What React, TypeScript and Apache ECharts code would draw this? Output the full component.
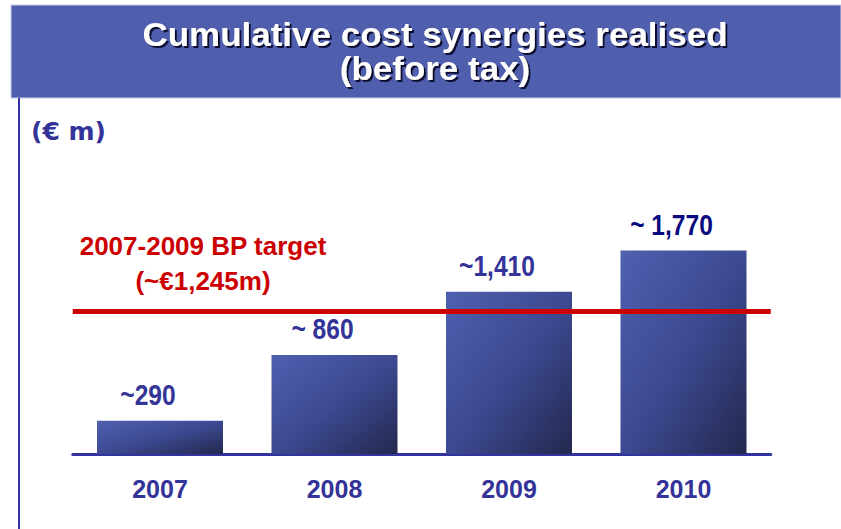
import React, { useEffect, useRef } from "react";
import * as echarts from "echarts";

const categories = ["2007", "2008", "2009", "2010"];
const values = [290, 860, 1410, 1770];
const valueLabels = ["~290", "~ 860", "~1,410", "~ 1,770"];
const labelColors = ["#343597", "#333399", "#333399", "#0a0a80"];
const targetValue = 1245;
const titleLines = ["Cumulative cost synergies realised", "(before tax)"];
const unitLabel = "(€ m)";
const targetLines = ["2007-2009 BP target", "(~€1,245m)"];

const SANS = "'Liberation Sans', Arial, sans-serif";
const NARROW_SCALE = 0.82;

export default function App() {
  const ref = useRef<HTMLDivElement>(null);
  useEffect(() => {
    if (!ref.current) return;
    const chart = echarts.init(ref.current, undefined, { renderer: "svg" });

    const boldText = (
      text: string,
      x: number,
      y: number,
      size: number,
      fill: string,
      scaleX: number,
      z = 10,
      extra: any = {}
    ) => ({
      type: "text",
      x,
      y,
      scaleX,
      z,
      style: {
        text,
        fill,
        font: `bold ${size}px ${SANS}`,
        textAlign: "center",
        textVerticalAlign: "middle",
        ...extra,
      },
    });

    const shadow = {
      textShadowColor: "#101030",
      textShadowBlur: 1,
      textShadowOffsetX: 2,
      textShadowOffsetY: 2,
      lineHeight: 34,
    };

    const baseGraphic: any[] = [
      {
        type: "rect",
        shape: { x: 11, y: 5, width: 830, height: 93 },
        style: { fill: "#4f5fad", stroke: "#c8cce8", lineWidth: 1 },
        z: 0,
      },
      {
        type: "line",
        shape: { x1: 19, y1: 98, x2: 19, y2: 529 },
        style: { stroke: "#3333a0", lineWidth: 2 },
      },
      boldText(titleLines.join("\n"), 435, 51, 33, "#ffffff", 1.06, 6, shadow),
      {
        type: "text",
        x: 31,
        y: 131,
        style: {
          text: unitLabel,
          fill: "#333399",
          font: "bold 25px 'DejaVu Sans', Verdana, sans-serif",
          textAlign: "left",
          textVerticalAlign: "middle",
        },
      },
      {
        type: "text",
        x: 203,
        y: 246,
        style: {
          text: targetLines[0],
          fill: "#cc0000",
          font: `bold 26px ${SANS}`,
          textAlign: "center",
          textVerticalAlign: "middle",
        },
      },
      {
        type: "text",
        x: 203,
        y: 281,
        style: {
          text: targetLines[1],
          fill: "#cc0000",
          font: `bold 26px ${SANS}`,
          textAlign: "center",
          textVerticalAlign: "middle",
        },
      },
    ];

    chart.setOption({
      animation: false,
      backgroundColor: "#ffffff",
      grid: { left: 72.75, right: 70.25, top: 224, bottom: 75 },
      xAxis: {
        type: "category",
        data: categories,
        axisLine: { show: true, lineStyle: { color: "#3333a0", width: 3 } },
        axisTick: { show: false },
        axisLabel: {
          color: "#333399",
          fontSize: 25,
          fontWeight: "bold",
          fontFamily: SANS,
          margin: 22,
        },
      },
      yAxis: {
        type: "value",
        min: 0,
        max: 2000,
        show: false,
        splitLine: { show: false },
      },
      series: [
        {
          type: "bar",
          barWidth: 126,
          data: values,
          itemStyle: {
            color: new echarts.graphic.LinearGradient(0, 0, 1, 1, [
              { offset: 0, color: "#4f60b0" },
              { offset: 0.5, color: "#3d4a92" },
              { offset: 1, color: "#23284e" },
            ]),
          },
          markLine: {
            silent: true,
            symbol: "none",
            label: { show: false },
            lineStyle: { color: "#cc0000", width: 5, type: "solid" },
            data: [{ yAxis: targetValue }],
          },
        },
      ],
      graphic: baseGraphic,
    });

    const labelGraphic = values.map((v, i) => {
      const p = chart.convertToPixel({ seriesIndex: 0 }, [i, v]) as number[];
      return boldText(valueLabels[i], p[0] - 12, p[1] - 26, 30, labelColors[i], NARROW_SCALE, 20);
    });
    chart.setOption({ graphic: [...baseGraphic, ...labelGraphic] });

    return () => chart.dispose();
  }, []);
  return (
    <div
      ref={ref}
      style={{ position: "absolute", left: 0, top: 0, width: 841, height: 529 }}
    />
  );
}
